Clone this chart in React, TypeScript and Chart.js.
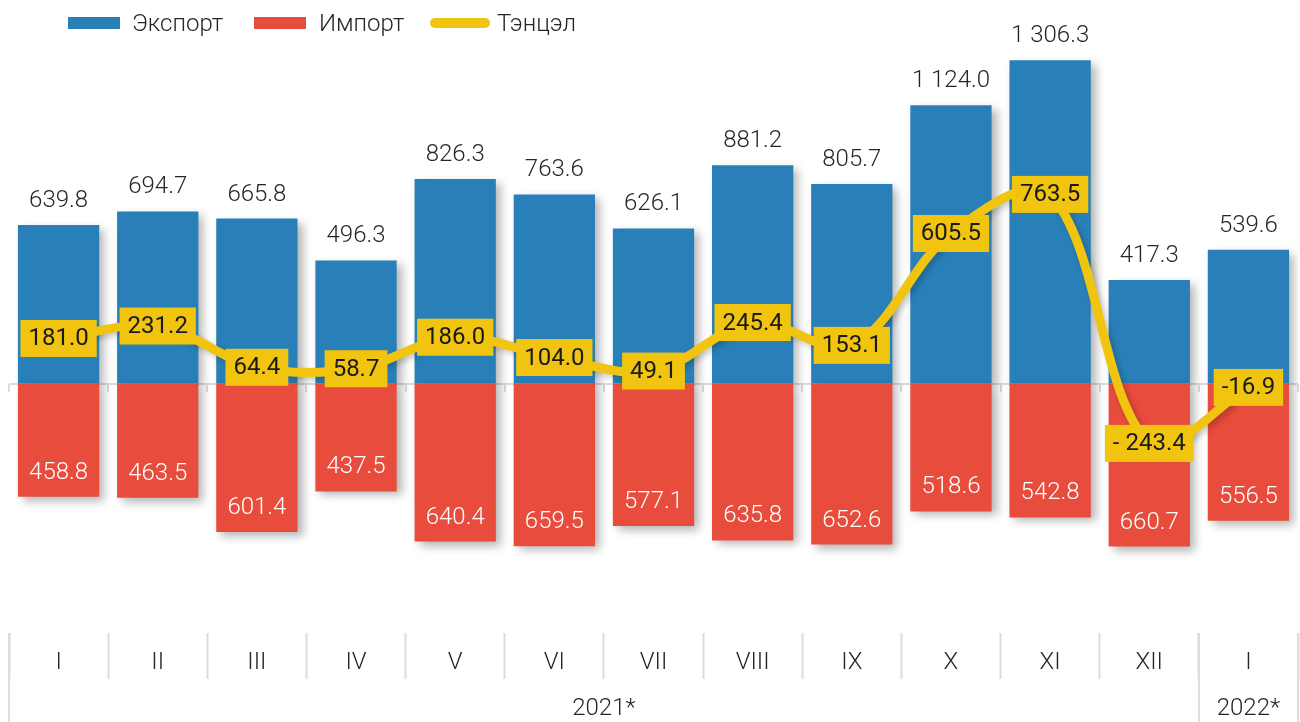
import React, { useEffect, useRef } from 'react';
import { Chart, registerables } from 'chart.js';

Chart.register(...registerables);

const categories = ['I', 'II', 'III', 'IV', 'V', 'VI', 'VII', 'VIII', 'IX', 'X', 'XI', 'XII', 'I'];
const exportValues = [639.8, 694.7, 665.8, 496.3, 826.3, 763.6, 626.1, 881.2, 805.7, 1124.0, 1306.3, 417.3, 539.6];
const importValues = [458.8, 463.5, 601.4, 437.5, 640.4, 659.5, 577.1, 635.8, 652.6, 518.6, 542.8, 660.7, 556.5];
const balanceValues = [181.0, 231.2, 64.4, 58.7, 186.0, 104.0, 49.1, 245.4, 153.1, 605.5, 763.5, -243.4, -16.9];
const yearLabels = ['2021*', '2022*'];
const yearSpans = [12, 1];
const seriesNames = ['Экспорт', 'Импорт', 'Тэнцэл'];

const BLUE = '#2980B9';
const RED = '#E74C3C';
const YELLOW = '#F1C40F';
const GRID = '#dcdcdc';
const FONT = 'Roboto, "Noto Sans", sans-serif';

function fmt(v: number): string {
  const abs = Math.abs(v);
  const [i, d] = abs.toFixed(1).split('.');
  const grouped = i.replace(/\B(?=(\d{3})+(?!\d))/g, ' ');
  const s = grouped + '.' + d;
  if (v < 0) return abs >= 100 ? '- ' + s : '-' + s;
  return s;
}

const shadowPlugin = {
  id: 'shadowPlugin',
  beforeDatasetDraw(chart: any, args: any) {
    const ctx = chart.ctx;
    ctx.save();
    if (args.index < 2) {
      ctx.shadowColor = 'rgba(0,0,0,0.30)';
      ctx.shadowBlur = 9;
      ctx.shadowOffsetX = 5;
      ctx.shadowOffsetY = 4;
    } else {
      ctx.shadowColor = 'rgba(0,0,0,0.22)';
      ctx.shadowBlur = 6;
      ctx.shadowOffsetX = 3;
      ctx.shadowOffsetY = 3;
    }
  },
  afterDatasetDraw(chart: any) {
    chart.ctx.restore();
  },
};

const zeroLinePlugin = {
  id: 'zeroLinePlugin',
  beforeDatasetsDraw(chart: any) {
    const { ctx, scales } = chart;
    const x = scales.x;
    const y = scales.y;
    const y0 = Math.round(y.getPixelForValue(0)) + 1;
    const n = categories.length;
    const w = (x.right - x.left) / n;
    ctx.save();
    ctx.strokeStyle = GRID;
    ctx.lineWidth = 2;
    ctx.beginPath();
    ctx.moveTo(x.left, y0);
    ctx.lineTo(x.right, y0);
    for (let i = 0; i <= n; i++) {
      const px = Math.round(x.left + i * w);
      ctx.moveTo(px, y0);
      ctx.lineTo(px, y0 + 8);
    }
    ctx.stroke();
    ctx.restore();
  },
};

const labelsPlugin = {
  id: 'labelsPlugin',
  afterDatasetsDraw(chart: any) {
    const ctx = chart.ctx;
    ctx.save();
    ctx.textAlign = 'center';
    ctx.textBaseline = 'alphabetic';
    ctx.font = `300 24px ${FONT}`;
    const m0 = chart.getDatasetMeta(0);
    m0.data.forEach((el: any, i: number) => {
      ctx.fillStyle = '#262626';
      ctx.fillText(fmt(exportValues[i]), el.x, el.y - 18);
    });
    const m1 = chart.getDatasetMeta(1);
    m1.data.forEach((el: any, i: number) => {
      ctx.fillStyle = '#ffffff';
      ctx.fillText(fmt(importValues[i]), el.x, el.y - 18);
    });
    const m2 = chart.getDatasetMeta(2);
    ctx.font = `400 24px ${FONT}`;
    ctx.textBaseline = 'middle';
    m2.data.forEach((el: any, i: number) => {
      const t = fmt(balanceValues[i]);
      const tw = ctx.measureText(t).width;
      const bw = tw + 16;
      const bh = 37;
      ctx.fillStyle = YELLOW;
      ctx.fillRect(el.x - bw / 2, el.y - bh / 2, bw, bh);
      ctx.fillStyle = '#1a1a1a';
      ctx.fillText(t, el.x, el.y + 1);
    });
    ctx.restore();
  },
};

const axisExtrasPlugin = {
  id: 'axisExtrasPlugin',
  afterDraw(chart: any) {
    const { ctx } = chart;
    const x = chart.scales.x;
    const n = categories.length;
    const w = (x.right - x.left) / n;
    ctx.save();
    ctx.strokeStyle = GRID;
    ctx.lineWidth = 2;
    // long separators at group boundaries
    let idx = 0;
    const bounds = [0];
    yearSpans.forEach((s) => {
      idx += s;
      bounds.push(idx);
    });
    ctx.beginPath();
    bounds.forEach((b) => {
      const px = Math.round(x.left + b * w);
      ctx.moveTo(px, x.top);
      ctx.lineTo(px, chart.height);
    });
    ctx.stroke();
    ctx.fillStyle = '#262626';
    ctx.font = `300 24px ${FONT}`;
    ctx.textAlign = 'center';
    ctx.textBaseline = 'middle';
    yearLabels.forEach((lab, k) => {
      const cx = x.left + ((bounds[k] + bounds[k + 1]) / 2) * w;
      ctx.fillText(lab, cx, 709);
    });

    // legend
    ctx.textAlign = 'left';
    ctx.textBaseline = 'alphabetic';
    ctx.fillStyle = BLUE;
    ctx.fillRect(68, 17, 52, 12);
    ctx.fillStyle = RED;
    ctx.fillRect(254, 17, 52, 12);
    ctx.strokeStyle = YELLOW;
    ctx.lineWidth = 10;
    ctx.lineCap = 'round';
    ctx.beginPath();
    ctx.moveTo(435, 23);
    ctx.lineTo(485, 23);
    ctx.stroke();
    ctx.fillStyle = '#262626';
    ctx.fillText(seriesNames[0], 132, 31);
    ctx.fillText(seriesNames[1], 319, 31);
    ctx.fillText(seriesNames[2], 497, 31);
    ctx.restore();
  },
};

export default function App() {
  const ref = useRef<HTMLCanvasElement | null>(null);
  useEffect(() => {
    if (!ref.current) return;
    const chart = new Chart(ref.current, {
      type: 'bar',
      data: {
        labels: categories,
        datasets: [
          {
            type: 'bar',
            label: seriesNames[0],
            data: exportValues,
            backgroundColor: BLUE,
            categoryPercentage: 1,
            barPercentage: 0.82,
            order: 3,
          },
          {
            type: 'bar',
            label: seriesNames[1],
            data: importValues.map((v) => -v),
            backgroundColor: RED,
            categoryPercentage: 1,
            barPercentage: 0.82,
            order: 2,
          },
          {
            type: 'line',
            label: seriesNames[2],
            data: balanceValues,
            borderColor: YELLOW,
            borderWidth: 9,
            pointRadius: 0,
            tension: 0.35,
            stack: 'balance',
            borderCapStyle: 'round',
            borderJoinStyle: 'round',
            order: 1,
          } as any,
        ],
      },
      options: {
        animation: false,
        responsive: true,
        maintainAspectRatio: false,
        layout: { padding: { top: 37, left: 9, right: 2, bottom: 0 } },
        plugins: {
          legend: { display: false },
          tooltip: { enabled: false },
        },
        scales: {
          x: {
            stacked: true,
            offset: true,
            border: { display: false },
            grid: {
              offset: true,
              drawOnChartArea: false,
              drawTicks: true,
              tickLength: 46,
              tickColor: GRID,
              tickWidth: 2,
            },
            ticks: {
              color: '#262626',
              font: { family: FONT, size: 24, weight: '300' as any },
              padding: -30,
              maxRotation: 0,
              autoSkip: false,
            },
            afterFit: (scale: any) => {
              scale.height = 89;
            },
          },
          y: {
            stacked: true,
            display: false,
            min: -1010,
            max: 1400,
          },
        },
      },
      plugins: [shadowPlugin, zeroLinePlugin, labelsPlugin, axisExtrasPlugin],
    });
    return () => chart.destroy();
  }, []);
  return (
    <div style={{ position: 'fixed', left: 0, top: 0, width: 1300, height: 722, background: '#fff' }}>
      <canvas ref={ref} />
    </div>
  );
}
